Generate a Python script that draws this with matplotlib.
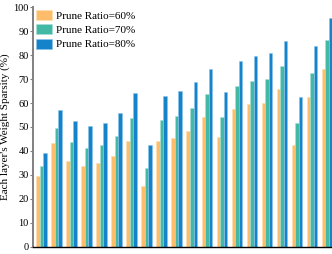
import matplotlib
matplotlib.use("Agg")
import matplotlib.pyplot as plt
import numpy as np

plt.rcParams['font.family'] = ['Liberation Serif', 'DejaVu Serif']
plt.rcParams['mathtext.fontset'] = 'stix'

# sparsity of each layer for the three prune ratios
layers = list(range(1, 21))
ratio_60 = [29.6, 43.5, 36.0, 33.8, 34.9, 38.0, 44.2, 25.4, 44.0, 45.5,
            48.5, 54.3, 45.7, 57.6, 59.7, 60.0, 65.7, 42.5, 62.4, 74.0]
ratio_70 = [33.8, 49.7, 43.6, 41.3, 42.5, 46.1, 53.6, 32.9, 52.9, 54.6,
            57.9, 63.8, 54.2, 66.9, 69.3, 70.0, 75.5, 51.7, 72.6, 86.4]
ratio_80 = [39.3, 57.1, 52.4, 50.3, 51.7, 55.7, 64.3, 42.4, 63.1, 65.0,
            68.6, 74.0, 64.5, 77.4, 79.7, 80.8, 85.7, 62.5, 83.6, 95.3]
series_labels = ['Prune Ratio=60%', 'Prune Ratio=70%', 'Prune Ratio=80%']
colors = ['#FEBD6B', '#43B8A4', '#1483CA']
edges = ['#FFDDB0', '#A6E0D6', '#8CC4EA']

fig = plt.figure(figsize=(3.32, 2.54), dpi=100)
ax = fig.add_axes([0.0994, 0.0276, 0.9006, 0.9448])

x = np.arange(len(layers))
w = 0.233
for k, vals in enumerate([ratio_60, ratio_70, ratio_80]):
    ax.bar(x + (k - 1) * w, vals, width=w, color=colors[k],
           edgecolor=edges[k], linewidth=0.4, label=series_labels[k])

ax.set_xlim(-0.55, 19.32)
ax.set_ylim(0, 100)
ax.set_yticks(range(0, 101, 10))
ax.set_xticks([])
ax.tick_params(axis='y', labelsize=7.5, length=2.5, width=0.8,
               color='#808080', pad=0.6)
ax.set_ylabel("Each layer's Weight Sparsity (%)", fontsize=8, labelpad=2.5)

for s in ['top', 'right']:
    ax.spines[s].set_visible(False)
ax.spines['left'].set_color('#808080')
ax.spines['left'].set_linewidth(1.4)
ax.spines['bottom'].set_color('black')
ax.spines['bottom'].set_linewidth(1.0)

ax.legend(loc='upper left', bbox_to_anchor=(0.0, 1.0), frameon=False,
          fontsize=8, handlelength=1.45, handleheight=1.0,
          handletextpad=0.3, labelspacing=0.3, borderaxespad=0.2,
          borderpad=0.1)

fig.savefig('out.png', dpi=100)
